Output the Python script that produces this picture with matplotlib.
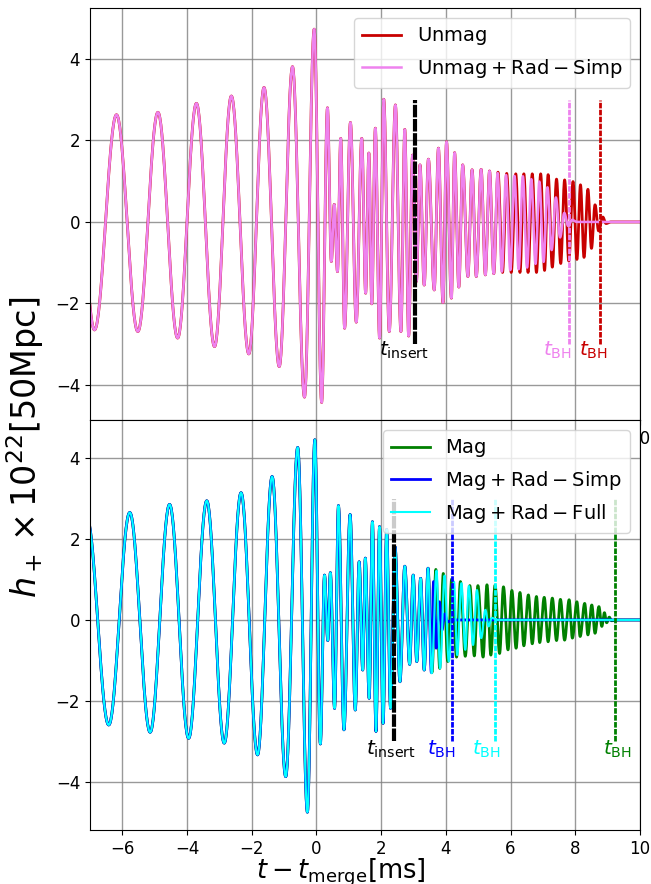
import numpy as np
import matplotlib
matplotlib.use("Agg")
import matplotlib.pyplot as plt

# ---- data: extrema (time [ms], h+ x 1e22) ----
# top panel: Unmag and Unmag+Rad-Simp coincide up to t ~ 5.5 ms
top_common_t = [-7.50, -6.86, -6.18, -5.52, -4.90, -4.29, -3.71, -3.15, -2.63, -2.09,
                 -1.62, -1.15, -0.74, -0.37, -0.07, 0.16, 0.34, 0.46, 0.55, 0.65,
                 0.75, 0.87, 1.05, 1.23, 1.40, 1.52, 1.62, 1.71, 1.82, 1.95,
                 2.08, 2.25, 2.44, 2.61, 2.73, 2.85, 2.97, 3.09, 3.20, 3.33,
                 3.46, 3.64, 3.77, 3.91, 4.02, 4.17, 4.27, 4.40, 4.52, 4.68,
                 4.81, 4.94, 5.09, 5.22, 5.35, 5.48]
top_common_h = [2.60, -2.65, 2.63, -2.69, 2.69, -2.85, 2.91, -3.06, 3.09, -3.24,
                3.30, -3.55, 3.81, -4.30, 4.73, -4.43, 2.80, -0.97, 0.43, -1.22,
                2.05, -2.61, 2.44, -2.46, 2.05, -1.75, 1.69, -2.01, 2.30, -2.85,
                3.01, -2.69, 2.87, -2.69, 2.27, -2.80, 1.64, -1.46, 1.40, -1.55,
                1.54, -1.67, 1.81, -1.98, 1.97, -1.87, 1.70, -1.60, 1.40, -1.34,
                1.28, -1.34, 1.29, -1.30, 1.25, -1.27]

unmag_tail_t = [5.61, 5.75, 5.88, 6.02, 6.16, 6.29, 6.41, 6.54, 6.67, 6.80,
                6.93, 7.05, 7.16, 7.29, 7.42, 7.55, 7.67, 7.80, 7.93, 8.05,
                8.16, 8.27, 8.39, 8.50, 8.61, 8.72, 8.85, 8.95, 9.10, 10.0]
unmag_tail_h = [1.22, -1.24, 1.19, -1.24, 1.18, -1.24, 1.18, -1.24, 1.18, -1.24,
                1.18, -1.19, 1.16, -1.11, 1.05, -1.02, 1.03, -0.96, 0.99, -0.92,
                0.91, -0.87, 0.80, -0.65, 0.42, -0.22, 0.12, -0.04, 0.0, 0.0]

simp_tail_t = [5.60, 5.73, 5.86, 5.99, 6.12, 6.25, 6.38, 6.51, 6.64, 6.77,
               6.89, 7.02, 7.14, 7.27, 7.40, 7.53, 7.66, 7.78, 7.90, 8.05, 10.0]
simp_tail_h = [1.20, -1.22, 1.15, -1.18, 1.13, -1.16, 1.12, -1.12, 1.05, -1.03,
               0.99, -0.98, 0.85, -0.69, 0.60, -0.38, 0.22, -0.10, 0.05, 0.0, 0.0]

# bottom panel: Mag, Mag+Rad-Simp, Mag+Rad-Full coincide up to t ~ 3.45 ms
bot_common_t = [-7.10, -6.42, -5.77, -5.14, -4.54, -3.95, -3.39, -2.85, -2.33, -1.82,
                -1.37, -0.95, -0.58, -0.28, -0.05, 0.12, 0.25, 0.35, 0.43, 0.56,
                0.68, 0.85, 1.04, 1.20, 1.32, 1.43, 1.51, 1.63, 1.73, 1.84,
                1.95, 2.06, 2.17, 2.29, 2.43, 2.58, 2.73, 2.88, 2.99, 3.10,
                3.22, 3.33, 3.45]
bot_common_h = [2.55, -2.60, 2.66, -2.78, 2.86, -2.93, 2.95, -3.05, 3.15, -3.34,
                3.55, -3.88, 4.27, -4.76, 4.46, -3.07, 1.11, -0.51, 1.17, -2.19,
                2.83, -2.72, 2.61, -2.23, 1.44, -1.24, 1.53, -1.94, 2.43, -2.76,
                2.31, -2.56, 2.24, -2.19, 1.81, -1.53, 1.33, -1.10, 1.11, -1.03,
                1.03, -1.24, 1.28]

mag_tail_t = [3.57, 3.69, 3.81, 3.92, 4.06, 4.18, 4.33, 4.45, 4.60, 4.74,
              4.88, 4.99, 5.15, 5.27, 5.39, 5.52, 5.66, 5.78, 5.92, 6.04,
              6.17, 6.29, 6.41, 6.55, 6.67, 6.80, 6.90, 7.04, 7.16, 7.29,
              7.42, 7.54, 7.67, 7.81, 7.91, 8.05, 8.15, 8.29, 8.39, 8.51,
              8.61, 8.73, 8.82, 8.90, 8.97, 9.05, 9.12, 9.30, 10.0]
mag_tail_h = [-1.30, 1.25, -1.20, 1.15, -1.03, 1.01, -0.92, 0.95, -0.90, 0.85,
              -0.89, 0.85, -0.92, 0.87, -0.87, 0.86, -0.83, 0.82, -0.74, 0.73,
              -0.70, 0.68, -0.64, 0.62, -0.59, 0.58, -0.56, 0.56, -0.54, 0.54,
              -0.51, 0.51, -0.50, 0.50, -0.45, 0.45, -0.41, 0.41, -0.37, 0.37,
              -0.33, 0.33, -0.16, 0.18, -0.07, 0.07, -0.02, 0.0, 0.0]

msimp_tail_t = [3.55, 3.62, 3.70, 3.80, 3.88, 3.96, 4.05, 4.20, 10.0]
msimp_tail_h = [-1.30, 0.95, -0.70, 0.45, -0.25, 0.15, -0.05, 0.0, 0.0]

mfull_tail_t = [3.56, 3.71, 3.82, 3.96, 4.09, 4.25, 4.35, 4.48, 4.60, 4.71,
                4.84, 4.96, 5.09, 5.22, 5.32, 5.42, 5.60, 10.0]
mfull_tail_h = [-1.32, 1.22, -1.20, 1.10, -1.03, 0.95, -0.87, 0.91, -0.74, 0.84,
                -0.62, 0.74, -0.45, 0.25, -0.16, 0.05, 0.0, 0.0]

# marker times [ms]
top_t_insert = 3.04
top_tbh_simp = 7.82
top_tbh_unmag = 8.75
bot_t_insert = 2.39
bot_tbh_simp = 4.18
bot_tbh_full = 5.52
bot_tbh_mag = 9.24

x_ticks = [-6, -4, -2, 0, 2, 4, 6, 8, 10]


def wave(tk, hk, n=40):
    """smooth half-cycle curve through the listed extrema"""
    ts, hs = [], []
    for i in range(len(tk) - 1):
        s = np.linspace(0, 1, n, endpoint=False)
        ts.append(tk[i] + (tk[i + 1] - tk[i]) * s)
        hs.append(hk[i + 1] + (hk[i] - hk[i + 1]) * (1 + np.cos(np.pi * s)) / 2)
    ts.append([tk[-1]])
    hs.append([hk[-1]])
    return np.concatenate(ts), np.concatenate(hs)


def vline(ax, x, color, lw=2.0, dash=(2.0, 0.5)):
    ax.plot([x, x], [-3, 3], color=color, lw=lw, linestyle=(0, dash), zorder=4)


fig = plt.figure(figsize=(6.51, 8.84), dpi=100)
ax1 = fig.add_axes([0.1382, 0.5249, 0.8449, 0.4661])
ax2 = fig.add_axes([0.1382, 0.0611, 0.8449, 0.4638])
ax2.set_zorder(2)

red = '#c80000'
pink = 'violet'

# ---- top panel ----
t, h = wave(top_common_t + unmag_tail_t, top_common_h + unmag_tail_h)
ax1.plot(t, h, color=red, lw=2.0, label=r'$\rm Unmag$')
t, h = wave(top_common_t + simp_tail_t, top_common_h + simp_tail_h)
ax1.plot(t, h, color=pink, lw=1.8, label=r'$\rm Unmag + Rad - Simp$')

vline(ax1, top_t_insert, 'black', lw=3.0, dash=(3.0, 0.4))
vline(ax1, top_tbh_simp, pink)
vline(ax1, top_tbh_unmag, red)
ax1.text(top_t_insert - 0.34, -2.88, r'$t_{\rm insert}$', fontsize=14.5, ha='center', va='top')
ax1.text(top_tbh_simp - 0.37, -2.88, r'$t_{\rm BH}$', fontsize=14.5, ha='center', va='top', color=pink)
ax1.text(top_tbh_unmag - 0.2, -2.88, r'$t_{\rm BH}$', fontsize=14.5, ha='center', va='top', color=red)

ax1.set_xlim(-7, 10)
ax1.set_ylim(-4.86, 5.25)
ax1.set_xticks(x_ticks)
# only the last tick label peeks out past the lower panel
ax1.set_xticklabels([''] * (len(x_ticks) - 1) + [str(x_ticks[-1])])
ax1.legend(loc='upper right', fontsize=14)

# ---- bottom panel ----
t, h = wave(bot_common_t + mag_tail_t, bot_common_h + mag_tail_h)
ax2.plot(t, h, color='green', lw=2.0, label=r'$\rm Mag$')
t, h = wave(bot_common_t + msimp_tail_t, bot_common_h + msimp_tail_h)
ax2.plot(t, h, color='blue', lw=2.0, label=r'$\rm Mag + Rad - Simp$')
t, h = wave(bot_common_t + mfull_tail_t, bot_common_h + mfull_tail_h)
ax2.plot(t, h, color='cyan', lw=1.5, label=r'$\rm Mag + Rad - Full$')

vline(ax2, bot_t_insert, 'black', lw=3.0, dash=(3.0, 0.4))
vline(ax2, bot_tbh_simp, 'blue')
vline(ax2, bot_tbh_full, 'cyan')
vline(ax2, bot_tbh_mag, 'green')
ax2.text(bot_t_insert - 0.1, -2.93, r'$t_{\rm insert}$', fontsize=14.5, ha='center', va='top')
ax2.text(bot_tbh_simp - 0.32, -2.93, r'$t_{\rm BH}$', fontsize=14.5, ha='center', va='top', color='blue')
ax2.text(bot_tbh_full - 0.28, -2.93, r'$t_{\rm BH}$', fontsize=14.5, ha='center', va='top', color='cyan')
ax2.text(bot_tbh_mag + 0.05, -2.93, r'$t_{\rm BH}$', fontsize=14.5, ha='center', va='top', color='green')

ax2.set_xlim(-7, 10)
ax2.set_ylim(-5.2, 4.95)
ax2.set_xticks(x_ticks)
ax2.legend(loc='upper right', fontsize=14)

for ax in (ax1, ax2):
    ax.grid(True, color='0.5', lw=1.0, alpha=0.8)
    ax.tick_params(labelsize=12)

ax2.set_xlabel(r'$t - t_{\rm merge} [\rm ms]$', fontsize=18.5)
ax2.xaxis.set_label_coords(0.456, -0.066)
fig.text(0.038, 0.494, r'$h_+ \times 10^{22} [50 {\rm Mpc}]$', fontsize=24,
         rotation=90, ha='center', va='center')

fig.savefig('out.png', dpi=100)
